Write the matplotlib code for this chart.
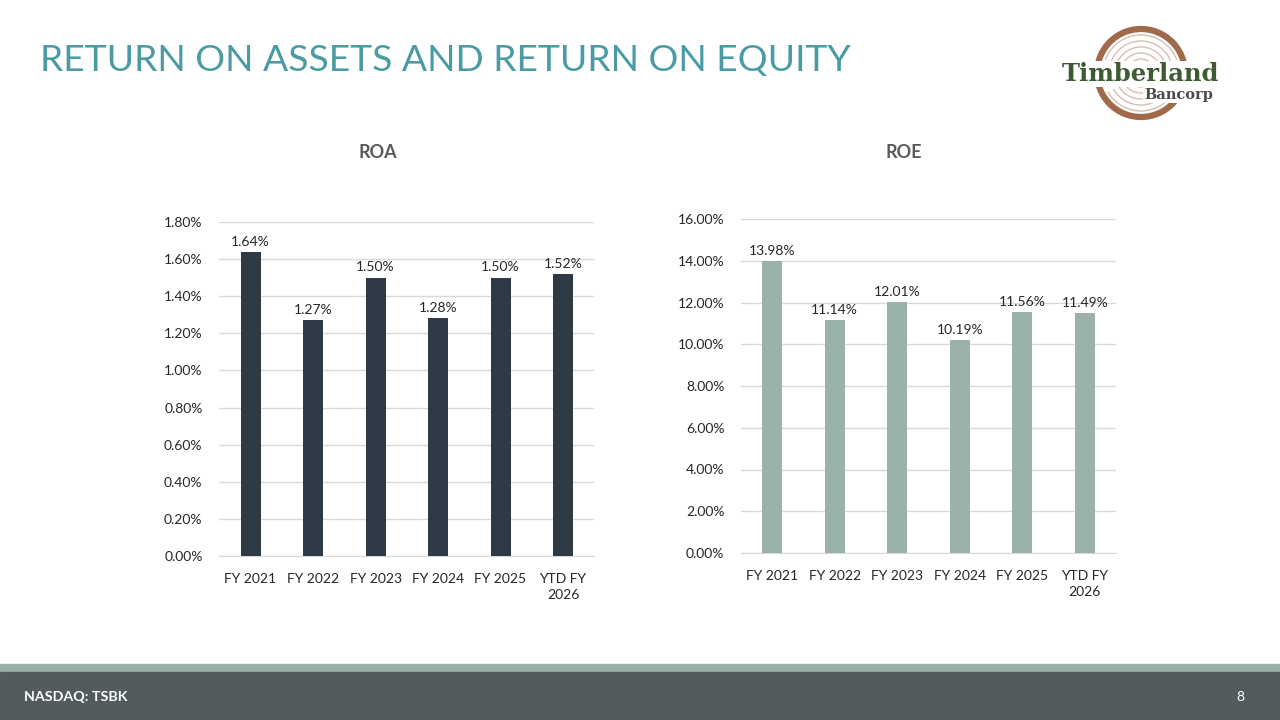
import matplotlib.pyplot as plt
import matplotlib as mpl
from matplotlib.patches import Rectangle, Circle, Arc
import numpy as np

mpl.style.use("default")
plt.rcParams['font.family'] = ['Lato', 'DejaVu Sans']

categories = ["FY 2021", "FY 2022", "FY 2023", "FY 2024", "FY 2025", "YTD FY\n2026"]
roa = [1.64, 1.27, 1.50, 1.28, 1.50, 1.52]
roe = [13.98, 11.14, 12.01, 10.19, 11.56, 11.49]
roa_ticks = [0.0, 0.2, 0.4, 0.6, 0.8, 1.0, 1.2, 1.4, 1.6, 1.8]
roe_ticks = [0, 2, 4, 6, 8, 10, 12, 14, 16]

text_col = '#262626'
grid_col = '#D9D9D9'

fig = plt.figure(figsize=(12.8, 7.2), dpi=100)


def bar_panel(rect, values, ticks, color, title, title_x):
    ax = fig.add_axes(rect)
    x = np.arange(len(values))
    ax.bar(x, values, width=0.32, color=color, zorder=3)
    ax.set_xlim(-0.5, len(values) - 0.5)
    ax.set_ylim(ticks[0], ticks[-1])
    ax.set_yticks(ticks)
    ax.set_yticklabels([f"{t:.2f}%" for t in ticks])
    ax.set_xticks(x)
    ax.set_xticklabels(categories)
    for lab in ax.get_xticklabels():
        lab.set_linespacing(1.45)
    ax.grid(axis='y', color=grid_col, linewidth=1, zorder=0)
    for s in ['top', 'right', 'left']:
        ax.spines[s].set_visible(False)
    ax.spines['bottom'].set_color(grid_col)
    ax.tick_params(axis='both', length=0, labelsize=10, colors=text_col)
    ax.tick_params(axis='y', pad=12)
    ax.tick_params(axis='x', pad=12)
    for xi, v in zip(x, values):
        ax.annotate(f"{v:.2f}%", (xi, v), xytext=(0, 3), textcoords='offset points',
                    ha='center', va='bottom', fontsize=10, color=text_col)
    fig.text(title_x, 1 - 152 / 720, title, ha='center', va='center',
             fontsize=13, fontweight='bold', color='#595959')
    return ax


bar_panel([219.25 / 1280, 1 - 556 / 720, 375 / 1280, 334 / 720], roa, roa_ticks,
          '#2E3B46', "ROA", 378 / 1280)
bar_panel([741 / 1280, 1 - 553 / 720, 375 / 1280, 334 / 720], roe, roe_ticks,
          '#9BB1AB', "ROE", 904 / 1280)

# slide title
fig.text(40 / 1280, 1 - 61 / 720, "RETURN ON ASSETS AND RETURN ON EQUITY", ha='left',
         va='center', fontsize=26.8, color='#4A9BA3')

# footer bands
fig.patches.append(Rectangle((0, 1 - 672 / 720), 1, 8 / 720, transform=fig.transFigure,
                             color='#9BAFA9', zorder=0))
fig.patches.append(Rectangle((0, 0), 1, 48 / 720, transform=fig.transFigure,
                             color='#525B5E', zorder=0))
fig.text(24 / 1280, 1 - 697 / 720, "NASDAQ: TSBK", ha='left', va='center',
         fontsize=10.3, fontweight='bold', color='white')
fig.text(1240 / 1280, 1 - 697 / 720, "8", ha='center', va='center',
         fontsize=10, color='white')

# logo
lax = fig.add_axes([1050 / 1280, 1 - 130 / 720, 182 / 1280, 110 / 720])
lax.set_xlim(1050, 1232)
lax.set_ylim(130, 20)
lax.set_aspect('equal')
lax.axis('off')
cx, cy = 1141, 73
for r in [38, 32, 26, 20, 14]:
    lax.add_patch(Arc((cx, cy), 2 * r, 2 * r, theta1=200, theta2=340,
                      color='#C9A48E', lw=1.0, alpha=0.7))
    lax.add_patch(Arc((cx, cy), 2 * r, 2 * r, theta1=30, theta2=150,
                      color='#C9A48E', lw=1.0, alpha=0.7))
lax.add_patch(Circle((cx, cy), 44, fill=False, ec='#A0694A', lw=4.5))
lax.text(1141, 74, "Timberland", ha='center', va='center', fontsize=17.5,
         fontweight='bold', family=['DejaVu Serif'], color='#3E5B34',
         bbox=dict(boxstyle='square,pad=0.05', fc='white', ec='none'))
lax.text(1213, 95, "Bancorp", ha='right', va='center', fontsize=10.5,
         fontweight='bold', family=['DejaVu Serif'], color='#4A4A4A',
         bbox=dict(boxstyle='square,pad=0.1', fc='white', ec='none'))

fig.savefig("out.png", dpi=100)
